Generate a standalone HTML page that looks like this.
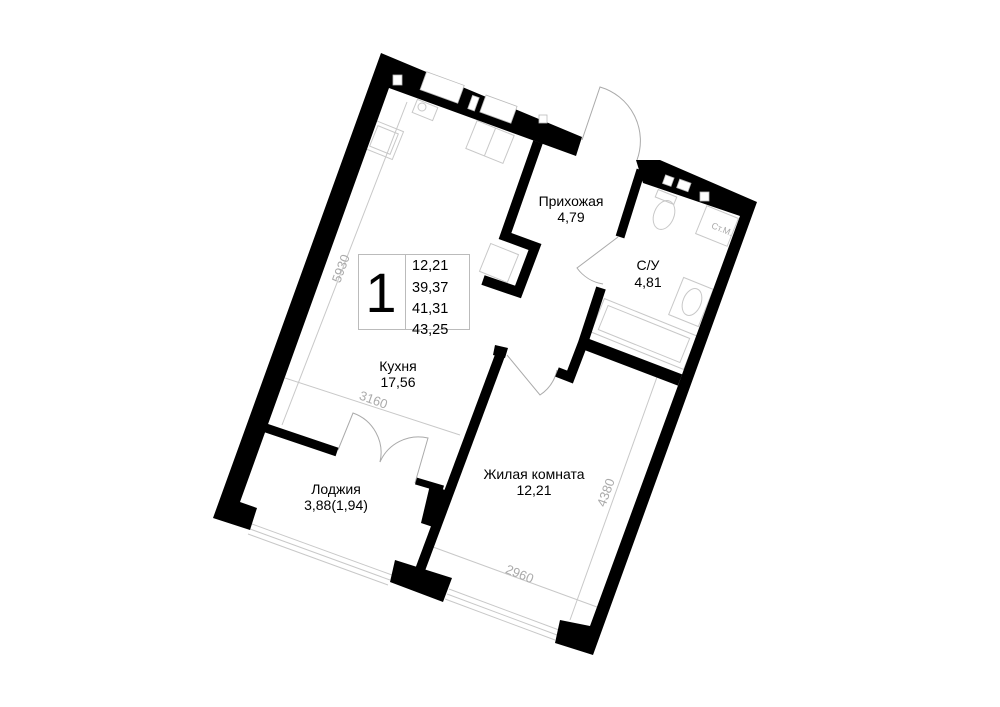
<!DOCTYPE html>
<html><head><meta charset="utf-8"><style>
html,body{margin:0;padding:0;background:#fff;}
svg{display:block}
text{font-family:"Liberation Sans","DejaVu Sans",sans-serif;}
</style></head><body>
<svg width="1000" height="707" viewBox="0 0 1000 707" xmlns="http://www.w3.org/2000/svg">
<rect width="1000" height="707" fill="#fff"/>
<!-- fixtures (light grey) -->
<g fill="none" stroke="#c8c8c8" stroke-width="1">
  <rect x="369" y="125" width="30" height="30" transform="rotate(22 384 140)"/>
  <rect x="373" y="129" width="22" height="22" transform="rotate(22 384 140)"/>
  <rect x="470" y="127" width="40" height="30" transform="rotate(22 490 142)"/>
  <line x1="490" y1="127" x2="490" y2="157" transform="rotate(22 490 142)"/>
  <rect x="414" y="103" width="22" height="14" transform="rotate(22 425 110)"/>
  <circle cx="422" cy="107" r="4"/>
  <rect x="484" y="248" width="30" height="30" transform="rotate(22 499 263)"/>
  <ellipse cx="664" cy="215" rx="10" ry="15" transform="rotate(22 664 215)"/>
  <rect x="656" y="193" width="20" height="8" transform="rotate(22 666 197)"/>
  <rect x="700" y="211" width="34" height="30" transform="rotate(22 717 226)"/>
  <rect x="675" y="282" width="32" height="40" transform="rotate(22 691 302)"/>
  <ellipse cx="692" cy="302" rx="9" ry="14" transform="rotate(22 692 302)"/>
  <rect x="594" y="316" width="100" height="36" transform="rotate(22 644 334)"/>
  <rect x="600" y="321" width="88" height="26" transform="rotate(22 644 334)"/>
  <!-- dimension lines -->
  <line x1="407" y1="102" x2="282" y2="425"/>
  <line x1="285" y1="378" x2="460" y2="435"/>
  <line x1="657" y1="377" x2="570" y2="620"/>
  <line x1="433" y1="547" x2="597" y2="607"/>
  <!-- windows bottom -->
  <line x1="252" y1="524" x2="392" y2="575"/>
  <line x1="250" y1="529" x2="390" y2="580"/>
  <line x1="248" y1="534" x2="388" y2="585"/>
  <line x1="449" y1="589" x2="559" y2="630"/>
  <line x1="447" y1="594" x2="557" y2="635"/>
  <line x1="445" y1="599" x2="555" y2="640"/>
</g>
<!-- doors -->
<g fill="none" stroke="#aaa" stroke-width="1">
  <path d="M582 140 L600 87 A56 56 0 0 1 637 160"/>
  <path d="M618 237 L577 268 A40 40 0 0 0 603 284"/>
  <path d="M507 355 L540 395 A40 40 0 0 0 557 370"/>
  <path d="M338 450 L353 413 A42 42 0 0 1 380 462"/>
  <path d="M415 483 L428 438 A42 42 0 0 0 380 462"/>
</g>
<!-- walls -->
<g fill="#000">
  <polygon points="381,53 582,137 576,156 389,88 240,502 257,508 250,530 213,518"/>
  <polygon points="636,160 660,160 757,202 593,655 555,643 560,620 590,626 740,216 643,183"/>
  <polygon points="495,345 508,348 505,358 493,355"/>
  <polygon points="430,485 445,490 436,528 421,523"/>
  <polygon points="395,560 452,578 443,602 390,582"/>
</g>
<g stroke="#000" fill="none" stroke-linecap="butt">
  <polyline points="538,142 505,236 535,247 518,292 483,280" stroke-width="10"/>
  <line x1="641" y1="170" x2="620" y2="237" stroke-width="9"/>
  <polyline points="601,288 583,343 570,377 557,372" stroke-width="10"/>
  <line x1="583" y1="343" x2="680" y2="380" stroke-width="12"/>
  <line x1="502" y1="350" x2="420" y2="570" stroke-width="10"/>
  <line x1="263" y1="427" x2="337" y2="452" stroke-width="9"/>
  <line x1="416" y1="481" x2="443" y2="489" stroke-width="7"/>
</g>
<!-- windows in walls -->
<g fill="#fff" stroke="#bbb" stroke-width="0.8">
  <rect x="422" y="78" width="40" height="19" transform="rotate(20 442 88)"/>
  <rect x="482" y="100" width="33" height="18" transform="rotate(20 498 109)"/>
  <rect x="470" y="96" width="7" height="14" transform="rotate(20 473 103)"/>
  <rect x="393" y="75" width="9" height="10"/>
  <rect x="539" y="115" width="8" height="8"/>
  <rect x="664" y="176" width="9" height="9" transform="rotate(20 668 180)"/>
  <rect x="678" y="181" width="12" height="9" transform="rotate(20 684 185)"/>
  <rect x="700" y="192" width="9" height="9"/>
</g>
<!-- dimension text -->
<g fill="#aaa" font-size="13">
  <text x="345" y="270" transform="rotate(-70 345 270)" text-anchor="middle">5930</text>
  <text x="372" y="404" transform="rotate(20 372 404)" text-anchor="middle">3160</text>
  <text x="610" y="494" transform="rotate(-70 610 494)" text-anchor="middle">4380</text>
  <text x="518" y="578" transform="rotate(22 518 578)" text-anchor="middle">2960</text>
  <text x="721" y="232" font-size="9" transform="rotate(22 721 232)" text-anchor="middle">Ст.М.</text>
</g>
<!-- info box -->
<g fill="none" stroke="#bbb" stroke-width="1">
  <rect x="358.5" y="254.5" width="111" height="75"/>
  <line x1="405.5" y1="254" x2="405.5" y2="330"/>
</g>
<text x="381" y="312" font-size="56" text-anchor="middle" fill="#000">1</text>
<g fill="#000" font-size="14.5">
  <text x="412" y="270">12,21</text>
  <text x="412" y="292">39,37</text>
  <text x="412" y="313">41,31</text>
  <text x="412" y="334">43,25</text>
</g>
<!-- room labels -->
<g fill="#000" font-size="14" text-anchor="middle">
  <text x="571" y="206">Прихожая</text><text x="571" y="222">4,79</text>
  <text x="648" y="270">С/У</text><text x="648" y="287">4,81</text>
  <text x="398" y="371">Кухня</text><text x="398" y="387">17,56</text>
  <text x="534" y="479">Жилая комната</text><text x="534" y="495">12,21</text>
  <text x="336" y="494">Лоджия</text><text x="336" y="510">3,88(1,94)</text>
</g>
</svg>
</body></html>
